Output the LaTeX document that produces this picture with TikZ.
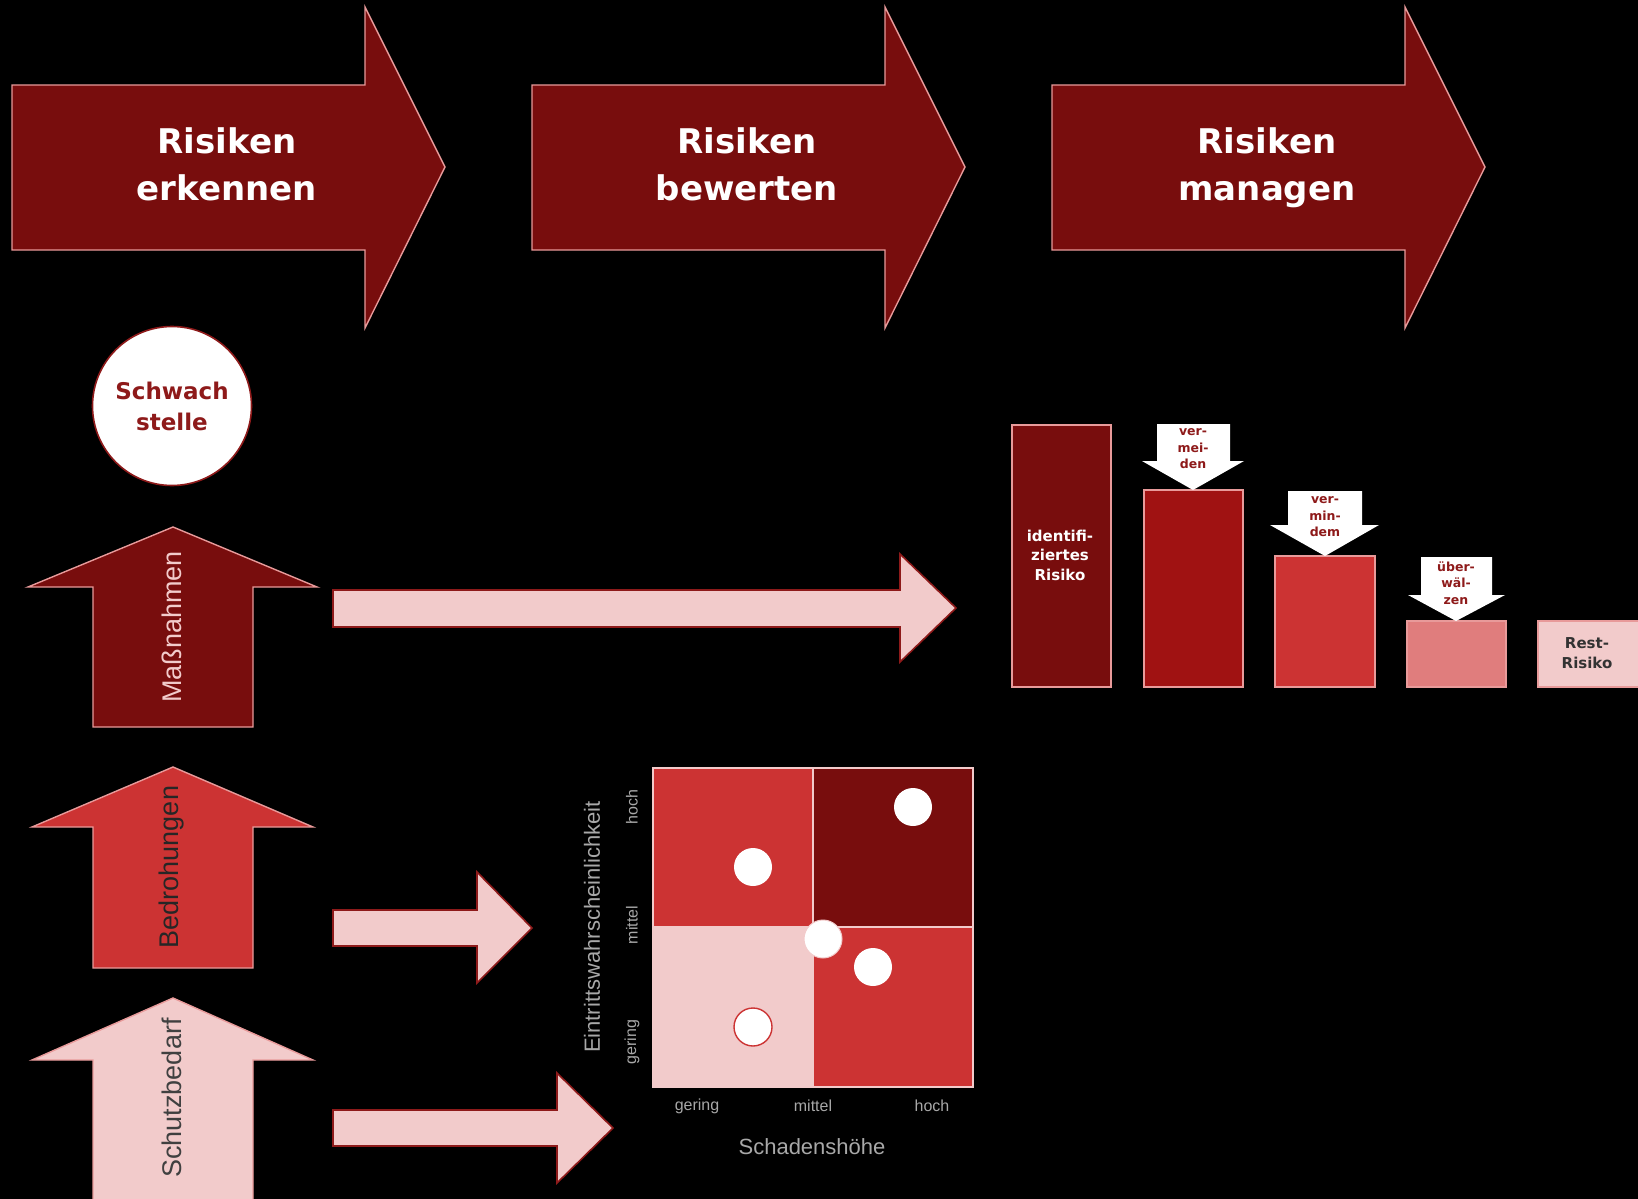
\documentclass[tikz,border=0pt]{standalone}
\usepackage{fontspec}
\setmainfont{Liberation Sans}
\newfontfamily\headfont{DejaVu Sans}

\definecolor{rdark}{HTML}{780D0D}
\definecolor{rmid}{HTML}{A01212}
\definecolor{rred}{HTML}{CC3333}
\definecolor{rsoft}{HTML}{E07D7D}
\definecolor{rpink}{HTML}{F2CBCB}
\definecolor{rline}{HTML}{E89A9A}
\definecolor{rdeep}{HTML}{8E1A1A}
\definecolor{axisgray}{HTML}{A8A8A8}

\tikzset{
  stage/.style={fill=rdark, draw=rline, line width=1.4pt, line join=miter},
  upshape/.style={draw=rline, line width=1.4pt, line join=miter},
  flow/.style={fill=rpink, draw=rdeep, line width=1.6pt, line join=miter},
  barbox/.style={draw=rline, line width=1.4pt},
  cutarrow/.style={fill=white},
  cell/.style={draw=rpink, line width=1.4pt},
  dot/.style={circle, fill=white, minimum size=38pt, inner sep=0pt},
  stagetext/.style={text=white, align=center,
    font=\headfont\bfseries\fontsize{34}{47.5}\selectfont},
  sidetext/.style={rotate=90, font=\fontsize{27}{30}\selectfont},
  bartext/.style={align=center, font=\headfont\bfseries\fontsize{15}{19.5}\selectfont},
  cuttext/.style={align=center, text=rdeep,
    font=\headfont\bfseries\fontsize{12.5}{16.5}\selectfont},
  ticktext/.style={text=axisgray, font=\fontsize{16}{18}\selectfont},
  axistext/.style={text=axisgray, font=\fontsize{22}{24}\selectfont},
}

\begin{document}
\begin{tikzpicture}[x=1pt, y=-1pt]
  \fill[black] (0,0) rectangle (1638,1199);
  \useasboundingbox (0,0) rectangle (1638,1199);
  \clip (0,0) rectangle (1638,1199);

  % process stages along the top
  \foreach \dx in {0,520,1040} {
    \draw[stage] (12+\dx,85) -- (365+\dx,85) -- (365+\dx,7) -- (445+\dx,167)
      -- (365+\dx,328) -- (365+\dx,250) -- (12+\dx,250) -- cycle;
  }
  \node[stagetext] (s1) at (227,168) {Risiken\\erkennen\vphantom{g}};
  \node[stagetext] (s2) at (747,168) {Risiken\\bewerten\vphantom{g}};
  \node[stagetext] (s3) at (1267,168) {Risiken\\managen\vphantom{g}};

  % weak point
  \node[circle, fill=white, draw=rdeep, line width=1.6pt, minimum size=159pt,
        align=center, text=rdeep,
        font=\headfont\bfseries\fontsize{23}{31}\selectfont]
        (weak) at (172,406) {Schwach\\stelle};

  % upward inputs
  \draw[upshape, fill=rdark] (173,527) -- (317,587) -- (253,587) -- (253,727)
    -- (93,727) -- (93,587) -- (28,587) -- cycle;
  \node[sidetext, text=rpink] (measures) at (172,627) {Maßnahmen};

  \draw[upshape, fill=rred] (173,767) -- (313,827) -- (253,827) -- (253,968)
    -- (93,968) -- (93,827) -- (32,827) -- cycle;
  \node[sidetext, text=black!85] (threats) at (172,867) {Bedrohungen};

  \draw[upshape, fill=rpink] (173,998) -- (313,1060) -- (253,1060) -- (253,1215)
    -- (93,1215) -- (93,1060) -- (32,1060) -- cycle;
  \node[sidetext, text=black!75] (needs) at (172,1098) {Schutzbedarf};

  % flow arrows to the right
  \draw[flow] (333,590) -- (900,590) -- (900,554) -- (956,608) -- (900,662)
    -- (900,627) -- (333,627) -- cycle;
  \draw[flow] (333,910) -- (477,910) -- (477,872) -- (532,928) -- (477,983)
    -- (477,946) -- (333,946) -- cycle;
  \draw[flow] (333,1110) -- (557,1110) -- (557,1073) -- (613,1128) -- (557,1183)
    -- (557,1146) -- (333,1146) -- cycle;

  % risk matrix
  \draw[cell, fill=rred]  (653,768) rectangle (813,927);
  \draw[cell, fill=rdark] (813,768) rectangle (973,927);
  \draw[cell, fill=rpink] (653,927) rectangle (813,1087);
  \draw[cell, fill=rred]  (813,927) rectangle (973,1087);

  \node[dot] (r1) at (753,867) {};
  \node[dot] (r2) at (913,807) {};
  \node[dot, draw=rpink, line width=1pt] (r3) at (823,939) {};
  \node[dot] (r4) at (873,967) {};
  \node[dot, draw=rred, line width=1.4pt] (r5) at (753,1027) {};

  \node[ticktext] (xlo) at (697,1106) {gering};
  \node[ticktext] (xmid) at (813,1106) {mittel};
  \node[ticktext] (xhi) at (932,1106) {hoch};
  \node[axistext] (xlab) at (812,1147) {Schadenshöhe};

  \node[ticktext, rotate=90] (ylo) at (632,1042) {gering};
  \node[ticktext, rotate=90] (ymid) at (632,925) {mittel};
  \node[ticktext, rotate=90] (yhi) at (632,807) {hoch};
  \node[axistext, rotate=90] (ylab) at (592,927) {Eintrittswahrscheinlichkeit};

  % risk reduction bars
  \draw[barbox, fill=rdark]  (1012,425) rectangle (1111,687);
  \draw[barbox, fill=rmid]   (1144,490) rectangle (1243,687);
  \draw[barbox, fill=rred]   (1275,556) rectangle (1375,687);
  \draw[barbox, fill=rsoft]  (1407,621) rectangle (1506,687);
  \draw[barbox, fill=rpink]  (1538,621) rectangle (1646,687);

  \node[bartext, text=white] (ident) at (1060,555) {identifi-\\ziertes\\Risiko};
  \node[bartext, text=black!80] (rest) at (1587,653) {Rest-\\Risiko};

  % treatment arrows pointing into the bars
  \fill[cutarrow] (1157,424) -- (1230,424) -- (1230,461) -- (1244,461) -- (1193,490)
    -- (1142,461) -- (1157,461) -- cycle;
  \node[cuttext] (avoid) at (1193,449) {ver-\\mei-\\den};

  \fill[cutarrow] (1288,491) -- (1362,491) -- (1362,525) -- (1379,525) -- (1325,556)
    -- (1270,525) -- (1288,525) -- cycle;
  \node[cuttext] (reduce) at (1325,517) {ver-\\min-\\dem};

  \fill[cutarrow] (1421,557) -- (1492,557) -- (1492,595) -- (1505,595) -- (1456,621)
    -- (1408,595) -- (1421,595) -- cycle;
  \node[cuttext] (transfer) at (1456,583) {über-\\wäl-\\zen};
\end{tikzpicture}
\end{document}
